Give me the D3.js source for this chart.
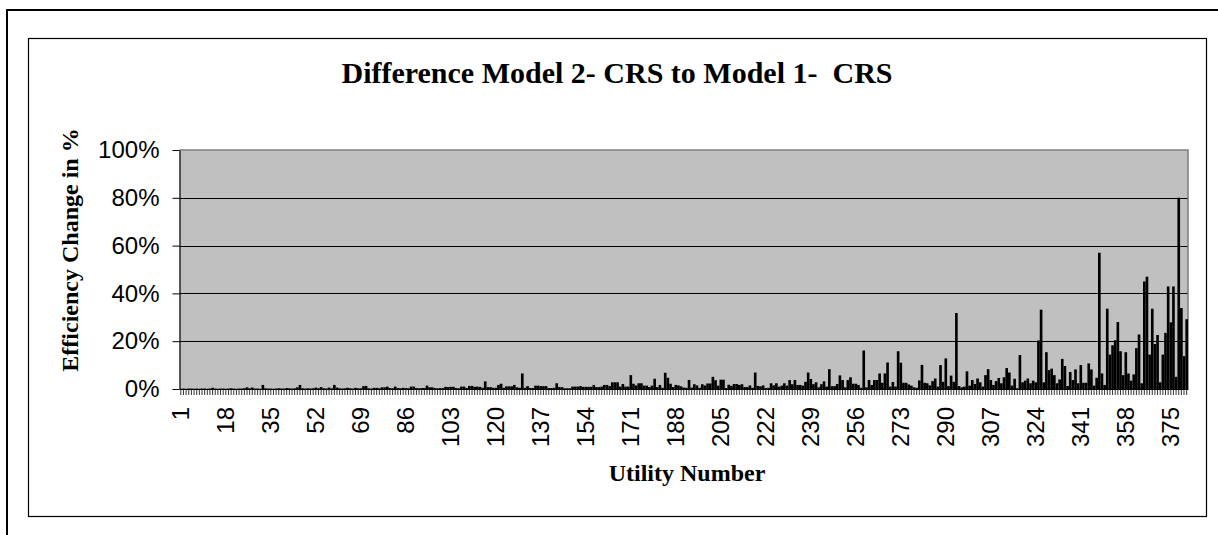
<!DOCTYPE html>
<html><head><meta charset="utf-8">
<script src="https://cdn.jsdelivr.net/npm/d3@7/dist/d3.min.js"></script>
<style>body{margin:0;background:#fff;overflow:hidden}</style>
</head><body>
<svg id="c" width="1218" height="535"></svg>
<script>
// ---- data ----
const titleText = "Difference Model 2- CRS to Model 1-  CRS";
const yTitle = "Efficiency Change in %";
const xTitle = "Utility Number";
const yTicks = [0, 20, 40, 60, 80, 100];
const xTickLabels = [1,18,35,52,69,86,103,120,137,154,171,188,205,222,239,256,273,290,307,324,341,358,375];
// efficiency change in %, utilities 1..381
const values = [
0.1,0.2,0.1,0.2,0.2,0.1,0.2,0.1,0.2,0.2,
0.1,0.2,0.5,0.2,0.1,0.2,0.2,0.1,0.2,0.3,
0.2,0.1,0.2,0.2,0.3,0.7,0.3,0.6,0.2,0.2,
0.1,1.7,0.3,0.2,0.2,0.1,0.2,0.3,0.2,0.2,
0.4,0.3,0.2,0.3,0.7,1.7,0.3,0.2,0.3,0.2,
0.3,0.6,0.3,0.8,0.3,0.2,0.6,0.3,1.7,0.6,
0.3,0.2,0.3,0.5,0.3,0.2,0.5,0.3,0.3,1.2,
1.3,0.3,0.2,0.5,0.5,0.3,0.7,0.7,1.0,0.4,
0.3,1.0,0.4,0.3,0.5,0.4,0.3,1.0,1.0,0.4,
0.3,0.4,0.4,1.4,0.7,0.7,0.4,0.3,0.4,0.4,
0.9,0.8,0.9,0.9,0.4,0.3,1.0,1.0,0.4,1.3,
1.3,0.9,1.0,0.9,0.5,3.2,0.8,0.8,0.5,0.5,
1.7,2.2,0.5,1.1,1.1,1.1,1.7,0.7,0.5,6.5,
0.5,1.2,0.4,0.4,1.4,1.4,1.2,1.2,1.2,0.4,
0.4,0.5,2.4,0.8,0.8,0.3,0.3,0.3,1.0,1.0,
1.0,1.2,0.9,0.9,0.9,0.9,1.7,0.8,0.8,1.0,
1.7,1.7,1.2,2.8,2.8,2.8,1.0,2.1,1.0,1.0,
5.8,2.2,1.5,2.4,2.4,1.4,1.4,0.8,1.4,4.3,
0.8,1.7,0.5,6.8,4.7,2.2,0.8,1.7,1.5,1.1,
0.6,0.5,3.8,0.6,2.0,1.5,0.5,2.0,1.5,2.3,
2.3,5.1,3.7,1.4,3.9,3.9,0.4,1.8,1.3,2.1,
2.1,1.7,2.0,0.8,0.8,1.5,0.5,6.9,1.3,1.1,
1.5,0.4,0.5,2.4,1.5,2.4,1.0,1.4,2.4,1.4,
3.75,2.0,3.75,1.7,1.7,1.4,3.0,6.9,4.2,2.0,
2.8,0.7,2.0,3.2,1.0,8.3,1.2,1.2,2.1,5.7,
3.75,0.7,3.75,4.9,2.2,2.2,1.7,0.5,16.1,0.7,
3.75,1.7,3.75,3.75,6.5,2.6,6.5,11.1,1.0,2.9,
1.0,15.8,11.0,2.6,2.6,1.9,1.4,0.7,0.5,3.6,
10.1,2.6,2.4,1.5,3.3,4.4,1.0,10.0,3.0,12.8,
1.2,5.6,3.0,31.8,1.2,0.7,1.0,7.4,1.4,3.75,
2.1,4.4,2.8,1.0,5.8,8.3,3.75,1.7,3.3,4.6,
2.4,4.9,8.75,6.9,1.4,4.3,0.3,14.2,2.8,3.5,
4.4,2.4,3.5,2.8,20.3,33.2,2.8,15.4,7.9,8.5,
5.8,2.4,4.0,12.6,9.6,1.25,7.1,3.75,8.2,2.4,
10.0,2.6,2.6,10.7,8.2,1.4,4.7,57,6.5,1.7,
33.6,14.4,18.3,20.4,28,15.8,5.8,15.4,6.5,3.5,
6.1,17.1,22.8,2.4,45,47,14.4,33.6,18.8,22.6,
2.8,14.4,23.5,42.9,27.9,42.9,5.1,80,33.9,13.75,29.2
];
const categories = values.map((v, i) => i + 1);

// ---- drawing ----
const svg = d3.select("#c");
const L = 179.5, R = 1188, T = 150, B = 389;

// outer and inner frames
svg.append("rect").attr("x", 7).attr("y", 10).attr("width", 1230).attr("height", 560)
  .attr("fill", "none").attr("stroke", "#000").attr("stroke-width", 2);
svg.append("rect").attr("x", 28.5).attr("y", 38.5).attr("width", 1178).attr("height", 478)
  .attr("fill", "none").attr("stroke", "#000").attr("stroke-width", 1.2);

const x = d3.scaleBand().domain(categories).range([L, R]).paddingInner(0).paddingOuter(0);
const y = d3.scaleLinear().domain([0, 100]).range([B, T]);

// plot area
svg.append("rect").attr("x", L).attr("y", T).attr("width", R - L).attr("height", B - T)
  .attr("fill", "#C0C0C0");

// gridlines
svg.append("g").selectAll("line").data(yTicks.filter(d => d > 0 && d < 100)).join("line")
  .attr("x1", L).attr("x2", R).attr("y1", d => Math.round(y(d)) + 0.5).attr("y2", d => Math.round(y(d)) + 0.5)
  .attr("stroke", "#000").attr("stroke-width", 1);

// plot border (top/right) grey
svg.append("path").attr("d", `M${L},${T}H${R}V${B}`).attr("fill", "none")
  .attr("stroke", "#808080").attr("stroke-width", 1.6);

// bars
svg.append("g").selectAll("rect").data(values).join("rect")
  .attr("x", (d, i) => x(categories[i]))
  .attr("width", x.bandwidth())
  .attr("y", d => y(d))
  .attr("height", d => B - y(d))
  .attr("fill", "#000");

// x axis: tick comb
const xAxisTicks = d3.axisBottom(x).tickValues(categories).tickSize(6).tickFormat("").tickSizeOuter(0);
const gx = svg.append("g").attr("transform", `translate(0,${B})`).call(xAxisTicks);
gx.select(".domain").attr("stroke", "#000").attr("stroke-width", 1.2);
gx.selectAll(".tick line").attr("stroke", "#000").attr("stroke-width", 0.8);

// x labels
const xLab = d3.axisBottom(x).tickValues(xTickLabels).tickSize(0).tickPadding(0);
const gxl = svg.append("g").attr("transform", `translate(0,${B})`).call(xLab);
gxl.select(".domain").remove();
gxl.selectAll("text")
  .attr("font-family", "Liberation Sans, Arial, sans-serif").attr("font-size", 24).attr("fill", "#000")
  .attr("text-anchor", "end").attr("transform", "rotate(-90)")
  .attr("x", -18).attr("y", 0).attr("dy", "0.35em");

// y axis
const yAxis = d3.axisLeft(y).tickValues(yTicks).tickFormat(d => d + "%").tickSize(7).tickPadding(13).tickSizeOuter(0);
const gy = svg.append("g").attr("transform", `translate(${L},0)`).call(yAxis);
gy.select(".domain").attr("stroke", "#000").attr("stroke-width", 1.2);
gy.selectAll(".tick line").attr("stroke", "#000");
gy.selectAll("text").attr("font-family", "Liberation Sans, Arial, sans-serif").attr("font-size", 24).attr("fill", "#000");

// titles
svg.append("text").attr("x", 617).attr("y", 83).attr("text-anchor", "middle")
  .attr("font-family", "Liberation Serif, Times New Roman, serif").attr("font-weight", "bold")
  .attr("font-size", 30).attr("xml:space", "preserve").style("white-space", "pre").text(titleText);
svg.append("text").attr("x", 687).attr("y", 481).attr("text-anchor", "middle")
  .attr("font-family", "Liberation Serif, Times New Roman, serif").attr("font-weight", "bold")
  .attr("font-size", 24).text(xTitle);
svg.append("text").attr("transform", "translate(78,250) rotate(-90)").attr("text-anchor", "middle")
  .attr("font-family", "Liberation Serif, Times New Roman, serif").attr("font-weight", "bold")
  .attr("font-size", 24).text(yTitle);
</script>
</body></html>
